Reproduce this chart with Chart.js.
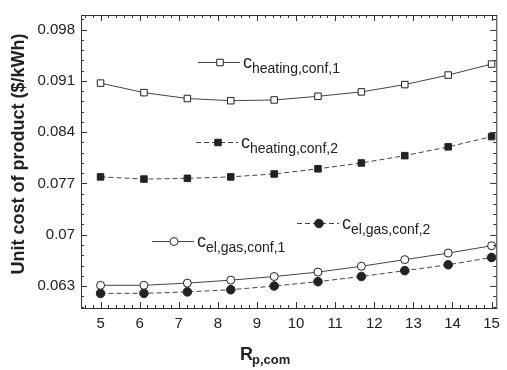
<!DOCTYPE html>
<html>
<head>
<meta charset="utf-8">
<script src="https://cdn.jsdelivr.net/npm/chart.js@4.4.0/dist/chart.umd.min.js"></script>
<style>
  html, body { margin: 0; background: #fff; }
</style>
</head>
<body>
<canvas id="costChart" width="507" height="370"></canvas>
<script>
// pressure ratio of the compressor
const ratios = [5, 6.11, 7.22, 8.33, 9.44, 10.56, 11.67, 12.78, 13.89, 15];

// unit cost of product ($/kWh)
const heatingConf1 = [0.0907, 0.0894, 0.0886, 0.0883, 0.0884, 0.0889, 0.0895, 0.0905, 0.0918, 0.0933];
const heatingConf2 = [0.0779, 0.0776, 0.0777, 0.0779, 0.0783, 0.0790, 0.0798, 0.0808, 0.0820, 0.0834];
const elGasConf1 = [0.0631, 0.0631, 0.0634, 0.0638, 0.0643, 0.0649, 0.0657, 0.0666, 0.0675, 0.0685];
const elGasConf2 = [0.0620, 0.0620, 0.0622, 0.0625, 0.0630, 0.0636, 0.0643, 0.0651, 0.0659, 0.0669];

const xTicks = [5, 6, 7, 8, 9, 10, 11, 12, 13, 14, 15];
const yTicks = [0.063, 0.07, 0.077, 0.084, 0.091, 0.098];

const ink = "#222";
const font = "Arial, 'Liberation Sans', sans-serif";

function pts(ys) {
  return ys.map((y, i) => ({ x: ratios[i], y: y }));
}

const series = [
  { sub: "heating,conf,1", data: heatingConf1, style: "rect", fill: "#fff", radius: 4.6, dash: [] , lx: 198, ly: 62 },
  { sub: "heating,conf,2", data: heatingConf2, style: "rect", fill: ink, radius: 4.6, dash: [5, 3], lx: 196, ly: 142 },
  { sub: "el,gas,conf,1", data: elGasConf1, style: "circle", fill: "#fff", radius: 4, dash: [], lx: 152, ly: 241 },
  { sub: "el,gas,conf,2", data: elGasConf2, style: "circle", fill: ink, radius: 4.3, dash: [5, 3], lx: 297, ly: 223 },
];

// inward tick marks on all four sides, plus frame
function minorSteps(major, n) {
  const out = [];
  const step = (major[1] - major[0]) / n;
  for (let k = -n; k < major.length * n + n; k++) out.push(+(major[0] + k * step).toFixed(6));
  return out;
}

const framePlugin = {
  id: "frame",
  afterDraw(chart) {
    const { ctx, chartArea: a, scales } = chart;
    const xs = scales.x, ys = scales.y;
    ctx.save();
    ctx.strokeStyle = "#333";
    ctx.lineWidth = 1;
    ctx.strokeRect(a.left + 0.5, a.top + 0.5, a.right - a.left, a.bottom - a.top);
    ctx.beginPath();
    minorSteps(xTicks, 5).forEach(v => {
      if (v < xs.min || v > xs.max) return;
      const px = Math.round(xs.getPixelForValue(v)) + 0.5;
      const len = xTicks.some(t => Math.abs(t - v) < 1e-6) ? 6 : 3;
      ctx.moveTo(px, a.bottom); ctx.lineTo(px, a.bottom - len);
      ctx.moveTo(px, a.top); ctx.lineTo(px, a.top + len);
    });
    minorSteps(yTicks, 5).forEach(v => {
      if (v < ys.min || v > ys.max) return;
      const py = Math.round(ys.getPixelForValue(v)) + 0.5;
      const len = yTicks.some(t => Math.abs(t - v) < 1e-6) ? 6 : 3;
      ctx.moveTo(a.left, py); ctx.lineTo(a.left + len, py);
      ctx.moveTo(a.right, py); ctx.lineTo(a.right - len, py);
    });
    ctx.stroke();

    // in-plot legend entries with subscripted labels
    series.forEach(s => {
      ctx.strokeStyle = "#444";
      ctx.setLineDash(s.dash);
      ctx.beginPath();
      ctx.moveTo(s.lx, s.ly + 0.5);
      ctx.lineTo(s.lx + 42, s.ly + 0.5);
      ctx.stroke();
      ctx.setLineDash([]);
      ctx.fillStyle = s.fill;
      ctx.strokeStyle = ink;
      Chart.helpers.drawPoint(ctx, { pointStyle: s.style, radius: s.radius, borderWidth: 1, rotation: 0 }, s.lx + 22, s.ly + 0.5);
      ctx.fillStyle = ink;
      ctx.textBaseline = "alphabetic";
      ctx.textAlign = "left";
      ctx.font = "18px " + font;
      ctx.fillText("c", s.lx + 45, s.ly + 6);
      ctx.font = "14px " + font;
      ctx.fillText(s.sub, s.lx + 54, s.ly + 11);
    });

    // axis titles
    ctx.fillStyle = ink;
    ctx.font = "bold 18px " + font;
    ctx.textAlign = "left";
    ctx.fillText("R", 240, 360);
    ctx.font = "bold 13px " + font;
    ctx.fillText("p,com", 252, 364);

    ctx.translate(24, 154);
    ctx.rotate(-Math.PI / 2);
    ctx.textAlign = "center";
    ctx.font = "bold 18px " + font;
    ctx.fillText("Unit cost of product ($/kWh)", 0, 0);
    ctx.restore();
  }
};

const ctxCost = document.getElementById("costChart").getContext("2d");
const costChart = new Chart(ctxCost, {
  type: "line",
  data: {
    datasets: series.map(s => ({
      label: "c" + s.sub,
      data: pts(s.data),
      borderColor: "#444",
      borderWidth: 1,
      borderDash: s.dash,
      pointStyle: s.style,
      pointRadius: s.radius,
      pointBackgroundColor: s.fill,
      pointBorderColor: ink,
      pointBorderWidth: 1,
      tension: 0,
    })),
  },
  options: {
    responsive: false,
    animation: false,
    layout: { padding: { top: 9, right: 4 } },
    plugins: { legend: { display: false }, tooltip: { enabled: false } },
    scales: {
      x: {
        type: "linear",
        min: 4.5,
        max: 15.12,
        grid: { display: false, drawTicks: false },
        border: { display: false },
        afterBuildTicks: s => { s.ticks = xTicks.map(v => ({ value: v })); },
        afterFit: s => { s.height = 62; },
        ticks: { padding: 7, color: ink, font: { family: font, size: 15 }, maxRotation: 0 },
      },
      y: {
        min: 0.06,
        max: 0.1,
        grid: { display: false, drawTicks: false },
        border: { display: false },
        afterBuildTicks: s => { s.ticks = yTicks.map(v => ({ value: v })); },
        afterFit: s => { s.width = 81; },
        ticks: {
          padding: 6,
          color: ink,
          font: { family: font, size: 15 },
          callback: v => String(+v.toFixed(3)),
        },
      },
    },
  },
  plugins: [framePlugin],
});
</script>
</body>
</html>
